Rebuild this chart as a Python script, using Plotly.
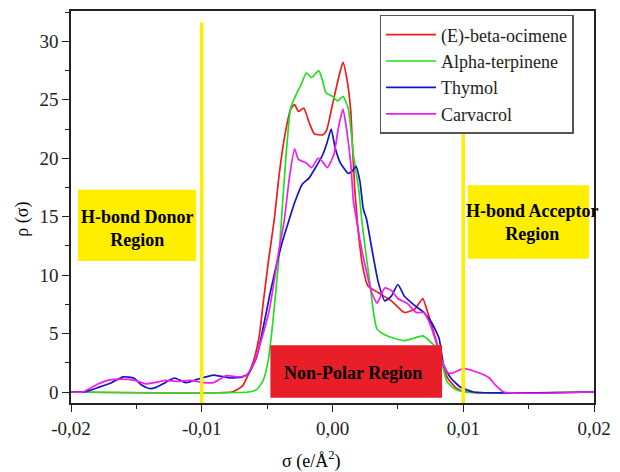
import plotly.graph_objects as go

# sigma-profiles, sigma in e/Å^2, rho(sigma) unitless
beta_ocimene_x = [-0.0200, -0.0077, -0.0073, -0.0069, -0.0064, -0.0060, -0.0056, -0.0053, -0.0049,
                  -0.00445, -0.0041, -0.0037, -0.0032, -0.0029, -0.0026, -0.0022, -0.0018, -0.0014,
                  -0.00075, -0.00045, 0.0000, 0.00045, 0.0008, 0.0011, 0.0014, 0.0015, 0.0017, 0.0019,
                  0.0020, 0.0023, 0.0027, 0.0035, 0.0045, 0.0055, 0.0063, 0.0069, 0.0072, 0.0078,
                  0.0083, 0.0088, 0.0095, 0.0102, 0.0200]
beta_ocimene_y = [0, 0, 0.2, 0.5, 1.6, 2.8, 4.8, 7.6, 11.2,
                  14.8, 18.4, 21.6, 24.2, 24.6, 24.0, 24.3, 23.1, 22.1,
                  22.0, 22.4, 24.6, 26.8, 28.2, 26.8, 24.0, 21.7, 17.4, 14.6,
                  13.4, 10.8, 9.1, 8.5, 7.8, 6.8, 7.1, 8.0, 7.1, 4.9,
                  2.9, 1.2, 0.3, 0, 0]

terpinene_x = [-0.0200, -0.0064, -0.0058, -0.0053, -0.0049, -0.0046, -0.00415, -0.0039, -0.00355,
               -0.0032, -0.0028, -0.0024, -0.0020, -0.0016, -0.00105, -0.00075, -0.0005, 0.0000,
               0.0004, 0.0008, 0.0012, 0.0016, 0.0020, 0.00225, 0.0025, 0.00285, 0.0031, 0.0034,
               0.0040, 0.0047, 0.0055, 0.0062, 0.0069, 0.0075, 0.0080, 0.0084, 0.00875, 0.0093,
               0.0100, 0.0200]
terpinene_y = [0, 0, 0.2, 1.0, 2.8, 5.6, 10.8, 14.8, 20.3,
               24.3, 25.4, 26.3, 27.3, 26.9, 27.5, 26.6, 25.6, 25.3,
               24.9, 25.3, 24.3, 20.3, 17.4, 14.6, 12.3, 9.4, 7.1, 5.4,
               4.9, 4.6, 4.4, 4.6, 4.8, 4.3, 3.7, 2.3, 0.9, 0.3,
               0, 0]

thymol_x = [-0.0200, -0.0190, -0.0179, -0.0169, -0.0160, -0.0152, -0.0146, -0.0140, -0.0135,
            -0.0128, -0.0121, -0.0112, -0.0103, -0.0091, -0.0078, -0.0069, -0.0064, -0.0058,
            -0.0053, -0.0048, -0.0043, -0.0038, -0.0033, -0.0029, -0.0023, -0.0018, -0.00135,
            -0.00075, -0.0004, -0.0001, 0.0002, 0.0006, 0.0009, 0.0012, 0.0015, 0.0018, 0.0021,
            0.00235, 0.0026, 0.0030, 0.0035, 0.0040, 0.0045, 0.0050, 0.0055, 0.0063, 0.0070,
            0.0076, 0.00815, 0.0085, 0.00905, 0.0098, 0.0108, 0.0200]
thymol_y = [0, 0, 0.4, 0.8, 1.3, 1.2, 0.6, 0.3, 0.4,
            0.8, 1.2, 0.8, 1.1, 1.45, 1.2, 1.3, 1.6, 3.0,
            5.5, 8.3, 10.8, 13.0, 14.8, 16.2, 17.8, 18.3, 19.1,
            20.3, 21.4, 22.5, 20.9, 19.6, 19.1, 18.7, 18.9, 19.3, 18.0,
            15.7, 14.8, 12.3, 9.4, 7.8, 8.2, 9.2, 8.2, 7.4, 6.8,
            5.9, 4.6, 2.3, 1.2, 0.4, 0, 0]

carvacrol_x = [-0.0200, -0.0191, -0.0179, -0.0172, -0.0161, -0.0151, -0.0143, -0.0136, -0.0128,
               -0.0118, -0.0109, -0.0098, -0.0091, -0.0081, -0.0073, -0.0066, -0.0060, -0.0053,
               -0.0048, -0.0041, -0.0037, -0.0033, -0.0029, -0.0026, -0.0020, -0.0016, -0.0011,
               -0.00075, -0.0004, 0.0001, 0.00045, 0.0008, 0.0011, 0.0014, 0.0016, 0.0018, 0.0021,
               0.0025, 0.0030, 0.0034, 0.0036, 0.0040, 0.0045, 0.0050, 0.0057, 0.0064, 0.0070,
               0.0075, 0.0080, 0.0084, 0.00875, 0.0091, 0.0100, 0.0108, 0.0116, 0.0120, 0.01245,
               0.0131, 0.0200]
carvacrol_y = [0, 0, 0.7, 1.0, 1.1, 1.0, 0.7, 0.8, 1.0,
               0.9, 1.0, 0.8, 0.8, 1.4, 1.3, 1.4, 2.5, 5.0,
               7.2, 12.1, 14.6, 18.3, 20.8, 19.9, 19.6, 19.2, 20.0,
               19.7, 19.2, 20.3, 22.6, 24.2, 22.3, 19.5, 16.3, 15.0, 13.0,
               10.8, 8.5, 7.6, 8.0, 8.9, 8.7, 8.0, 7.6, 6.8, 6.8,
               5.7, 4.0, 2.6, 1.7, 1.6, 2.0, 1.8, 1.45, 1.2, 0.6,
               0, 0]

series = [
    ("(E)-beta-ocimene", beta_ocimene_x, beta_ocimene_y, "#EE1C1C"),
    ("Alpha-terpinene", terpinene_x, terpinene_y, "#22E022"),
    ("Thymol", thymol_x, thymol_y, "#1414C8"),
    ("Carvacrol", carvacrol_x, carvacrol_y, "#F01CF0"),
]

x_ticks = [-0.02, -0.01, 0.0, 0.01, 0.02]
x_tick_text = ["-0,02", "-0,01", "0,00", "0,01", "0,02"]
y_ticks = [0, 5, 10, 15, 20, 25, 30]

region_lines = [-0.01, 0.01]
region_line_top = 31.6

serif = "Liberation Serif"
yellow = "#FFEE00"

fig = go.Figure()
for name, xs, ys, color in series:
    fig.add_trace(go.Scatter(
        x=xs, y=ys, name=name, mode="lines",
        line=dict(color=color, width=1.7, shape="spline", smoothing=0.5),
    ))

# vertical separators between the regions
for xv in region_lines:
    fig.add_shape(type="line", xref="x", yref="y", x0=xv, x1=xv, y0=-0.94, y1=region_line_top,
                  line=dict(color=yellow, width=3.5), layer="above")

# region boxes
fig.add_shape(type="rect", xref="x", yref="y", x0=-0.01947, x1=-0.01042, y0=11.2, y1=17.3,
              fillcolor=yellow, line=dict(width=0), layer="above")
fig.add_shape(type="rect", xref="x", yref="y", x0=0.01034, x1=0.01962, y0=11.4, y1=17.7,
              fillcolor=yellow, line=dict(width=0), layer="above")
fig.add_shape(type="rect", xref="x", yref="y", x0=-0.00475, x1=0.00838, y0=-0.5, y1=4.0,
              fillcolor="#E81E28", line=dict(width=0), layer="above")

label_font = dict(family=serif, size=18, color="black")
fig.add_annotation(x=-0.01494, y=14.0, xref="x", yref="y", text="<b>H-bond Donor<br>Region</b>",
                   showarrow=False, font=label_font, align="center")
fig.add_annotation(x=0.01530, y=14.5, xref="x", yref="y", text="<b>H-bond Acceptor<br>Region</b>",
                   showarrow=False, font=label_font, align="center")
fig.add_annotation(x=0.00155, y=1.6, xref="x", yref="y", text="<b>Non-Polar Region</b>",
                   showarrow=False, font=label_font)

# axis titles
fig.add_annotation(x=-0.00165, y=-0.145, xref="x", yref="paper", yanchor="middle", xanchor="center",
                   text="σ (e/Å<sup>2</sup>)", showarrow=False,
                   font=dict(family=serif, size=18, color="black"))
fig.add_annotation(x=-0.092, y=0.47, xref="paper", yref="paper", xanchor="center", yanchor="middle",
                   text="ρ (σ)", textangle=-90, showarrow=False,
                   font=dict(family=serif, size=18, color="black"))

axis_common = dict(
    showline=True, linecolor="#222222", linewidth=1.6, mirror=True,
    showgrid=False, zeroline=False, ticks="outside", ticklen=7, tickwidth=1.4,
    tickcolor="#222222", tickfont=dict(family=serif, size=19, color="#222222"),
)

fig.update_xaxes(range=[-0.02, 0.02], tickvals=x_ticks, ticktext=x_tick_text,
                 minor=dict(dtick=0.005, ticks="outside", ticklen=4, tickcolor="#222222"),
                 **axis_common)
fig.update_yaxes(range=[-0.94, 32.6], tickvals=y_ticks,
                 minor=dict(dtick=2.5, ticks="outside", ticklen=4, tickcolor="#222222"),
                 **axis_common)

fig.update_layout(
    width=620, height=472,
    margin=dict(l=71, r=19, t=9, b=69),
    plot_bgcolor="white", paper_bgcolor="white",
    showlegend=True,
    legend=dict(x=0.59, y=0.99, xanchor="left", yanchor="top", itemwidth=50,
                bgcolor="white", bordercolor="#555555", borderwidth=1.5,
                font=dict(family=serif, size=18, color="#222222")),
)

fig.write_html("out.html")
